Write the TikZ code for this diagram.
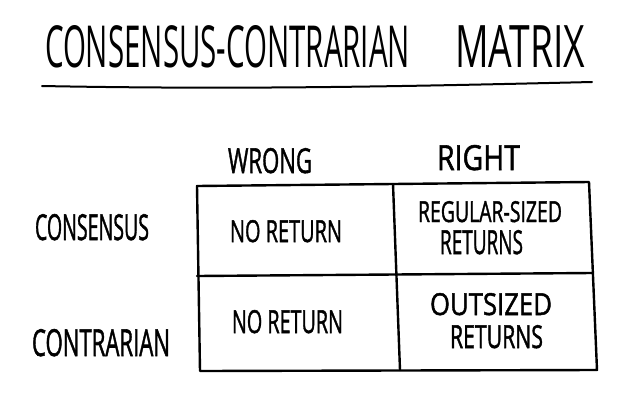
\documentclass[tikz,border=0pt]{standalone}
\usepackage{fontspec}
\setmainfont{Open Sans}
\newfontfamily\handbold[FakeBold=1.6]{Open Sans}
\newcommand{\fitbox}[3]{\resizebox{#1pt}{#2pt}{#3}}
\begin{document}
\begin{tikzpicture}[x=1pt,y=-1pt,
  lbl/.style={anchor=north west,inner sep=0pt,outer sep=0pt,font=\handbold},
  ttl/.style={anchor=north west,inner sep=0pt,outer sep=0pt,font=\rmfamily},
  ink/.style={line width=2.4pt,line cap=round,line join=round,black}]
\useasboundingbox[fill=white] (0,0) rectangle (640,410);
% title
\node[ttl] (t1) at (45,25) {\fitbox{365}{42}{CONSENSUS-CONTRARIAN}};
\node[ttl] (t2) at (455,25) {\fitbox{130}{42}{MATRIX}};
\coordinate (ul1) at (42,86);
\coordinate (ul2) at (592,82);
\draw[ink,line width=2pt] (ul1) .. controls (250,90) and (420,86) .. (ul2);
% headers
\node[lbl] (wrong) at (228,148) {\fitbox{84}{25}{WRONG}};
\node[lbl] (right) at (437,145) {\fitbox{83}{25}{RIGHT}};
\node[lbl] (cons) at (35,214) {\fitbox{114}{26}{CONSENSUS}};
\node[lbl] (cont) at (32,329) {\fitbox{138}{27}{CONTRARIAN}};
% grid
\coordinate (tl) at (197,186);
\coordinate (tm) at (393,184);
\coordinate (tr) at (589,182);
\coordinate (ml) at (197,276);
\coordinate (mr) at (592,273);
\coordinate (bl) at (200,371);
\coordinate (bm) at (400,370);
\coordinate (br) at (597,370);
\draw[ink] (tl) -- (tr) -- (br) -- (bl) -- cycle;
\draw[ink] (ml) -- (mr);
\draw[ink] (tm) -- (bm);
% cells
\node[lbl] (c11) at (230,220) {\fitbox{112}{22}{NO RETURN}};
\node[lbl] (c12a) at (418,201) {\fitbox{144}{21}{REGULAR-SIZED}};
\node[lbl] (c12b) at (440,230) {\fitbox{83}{24}{RETURNS}};
\node[lbl] (c21) at (232,310) {\fitbox{111}{23}{NO RETURN}};
\node[lbl] (c22a) at (430,293) {\fitbox{122}{22}{OUTSIZED}};
\node[lbl] (c22b) at (450,325) {\fitbox{93}{23}{RETURNS}};
\end{tikzpicture}
\end{document}
